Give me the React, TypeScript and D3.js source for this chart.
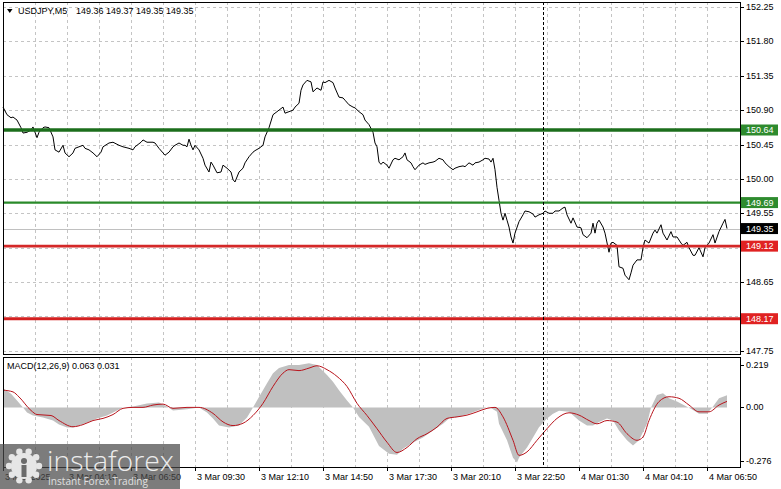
import { useEffect, useRef } from 'react'
import * as d3 from 'd3'

const W = 781
const H = 489

// price axis ticks (grid at every tick, labels where no level tag covers them)
const priceTicks = [152.25, 151.8, 151.35, 150.9, 150.45, 150.0, 149.55, 149.1, 148.65, 148.2, 147.75]
const priceLabels = [152.25, 151.8, 151.35, 150.9, 150.45, 150.0, 149.55, 148.65, 147.75]

// horizontal support / resistance levels
const levelValues = [150.64, 149.69, 149.12, 148.17]
const lastPrice = 149.35

// time axis, one label every 32 bars (M5)
const timeLabels = [
  '3 Mar 2025', '3 Mar 04:10', '3 Mar 06:50', '3 Mar 09:30', '3 Mar 12:10', '3 Mar 14:50',
  '3 Mar 17:30', '3 Mar 20:10', '3 Mar 22:50', '4 Mar 01:30', '4 Mar 04:10', '4 Mar 06:50',
]
const labelEvery = 32
const gridEvery = 16
const daySeparatorBar = 270 // 4 Mar 00:00

// close prices: [bar index, close]
const closes: [number, number][] = [
  [0, 150.94], [2, 150.84], [4, 150.8], [5, 150.81], [7, 150.77], [9, 150.67], [10, 150.6], [12, 150.61],
  [14, 150.64], [15, 150.68], [17, 150.54], [18, 150.61], [20, 150.67], [21, 150.68], [23, 150.67], [25, 150.55],
  [26, 150.38], [28, 150.35], [30, 150.44], [31, 150.34], [33, 150.29], [35, 150.34], [36, 150.4], [38, 150.42],
  [40, 150.44], [41, 150.4], [43, 150.38], [45, 150.34], [47, 150.29], [49, 150.35], [50, 150.42], [53, 150.47],
  [55, 150.48], [58, 150.44], [60, 150.42], [63, 150.4], [65, 150.38], [66, 150.42], [69, 150.48], [70, 150.51],
  [72, 150.48], [75, 150.48], [76, 150.47], [78, 150.4], [80, 150.34], [81, 150.31], [83, 150.35], [85, 150.42],
  [86, 150.44], [88, 150.47], [90, 150.44], [91, 150.44], [92, 150.42], [93, 150.52], [94, 150.44], [95, 150.38],
  [96, 150.44], [98, 150.38], [100, 150.27], [101, 150.18], [103, 150.09], [104, 150.22], [105, 150.18], [107, 150.08],
  [109, 150.09], [110, 150.18], [112, 150.14], [114, 150.09], [115, 149.99], [116, 149.96], [118, 150.09], [120, 150.14],
  [121, 150.21], [123, 150.29], [125, 150.35], [126, 150.37], [128, 150.4], [130, 150.44], [131, 150.55], [133, 150.67],
  [135, 150.84], [136, 150.86], [138, 150.9], [140, 150.94], [141, 150.86], [143, 150.88], [145, 150.9], [146, 150.94],
  [148, 150.99], [149, 151.16], [150, 151.23], [152, 151.29], [154, 151.27], [155, 151.14], [157, 151.19], [159, 151.16],
  [160, 151.27], [161, 151.26], [163, 151.29], [165, 151.26], [166, 151.19], [168, 151.07], [170, 151.06], [171, 151.03],
  [173, 150.97], [175, 150.94], [176, 150.93], [178, 150.88], [180, 150.84], [181, 150.77], [183, 150.71], [185, 150.61],
  [186, 150.47], [187, 150.42], [188, 150.22], [189, 150.19], [190, 150.22], [192, 150.18], [193, 150.14], [195, 150.25],
  [196, 150.27], [198, 150.25], [200, 150.29], [201, 150.34], [202, 150.25], [204, 150.21], [205, 150.16], [206, 150.12],
  [208, 150.18], [210, 150.21], [211, 150.19], [213, 150.21], [215, 150.22], [216, 150.23], [218, 150.27], [220, 150.25],
  [221, 150.21], [223, 150.16], [225, 150.12], [226, 150.14], [228, 150.16], [230, 150.17], [231, 150.16], [233, 150.21],
  [235, 150.18], [236, 150.21], [238, 150.22], [240, 150.25], [241, 150.27], [243, 150.26], [244, 150.22], [245, 150.27],
  [246, 150.12], [247, 149.89], [248, 149.72], [249, 149.55], [250, 149.46], [251, 149.55], [252, 149.46], [253, 149.37],
  [254, 149.24], [255, 149.16], [256, 149.29], [258, 149.44], [260, 149.53], [261, 149.58], [263, 149.57], [265, 149.54],
  [266, 149.5], [268, 149.53], [270, 149.55], [271, 149.58], [273, 149.55], [275, 149.55], [276, 149.58], [278, 149.58],
  [280, 149.62], [281, 149.63], [282, 149.53], [284, 149.42], [285, 149.49], [287, 149.37], [289, 149.36], [290, 149.27],
  [292, 149.23], [294, 149.29], [295, 149.42], [296, 149.29], [297, 149.42], [298, 149.46], [300, 149.37], [301, 149.29],
  [303, 149.04], [304, 149.16], [305, 149.17], [307, 149.13], [308, 148.85], [310, 148.83], [311, 148.74], [313, 148.68],
  [314, 148.77], [315, 148.87], [317, 148.94], [319, 148.94], [320, 149.1], [321, 149.2], [323, 149.16], [325, 149.29],
  [326, 149.33], [327, 149.29], [329, 149.4], [330, 149.29], [332, 149.2], [334, 149.31], [335, 149.24], [337, 149.24],
  [339, 149.16], [340, 149.13], [342, 149.17], [343, 149.1], [345, 149.0], [346, 149.0], [348, 149.1], [350, 148.98],
  [351, 149.1], [353, 149.16], [355, 149.27], [356, 149.16], [358, 149.31], [360, 149.42], [361, 149.47], [362, 149.35],
]

// MACD(12,26,9) main values drawn as histogram: [bar, value]
const macdMain: [number, number][] = [
  [0, 0.1], [2, 0.085], [4, 0.07], [7, 0.036], [10, 0.0], [12, -0.026], [15, -0.042], [20, -0.052],
  [25, -0.068], [28, -0.089], [32, -0.104], [35, -0.104], [38, -0.094], [42, -0.078], [47, -0.057], [52, -0.042],
  [57, -0.016], [60, 0.0], [65, 0.005], [72, 0.02], [78, 0.025], [82, 0.005], [85, -0.016], [92, -0.01],
  [98, 0.0], [102, -0.026], [105, -0.057], [108, -0.094], [113, -0.104], [118, -0.094], [122, -0.052], [125, 0.0],
  [128, 0.054], [132, 0.125], [135, 0.177], [138, 0.203], [143, 0.219], [148, 0.219], [153, 0.228], [157, 0.219],
  [162, 0.167], [165, 0.132], [168, 0.089], [172, 0.036], [175, 0.0], [178, -0.05], [183, -0.1], [188, -0.2],
  [193, -0.24], [197, -0.245], [200, -0.214], [205, -0.181], [210, -0.155], [215, -0.12], [220, -0.085], [223, -0.057],
  [228, -0.049], [233, -0.033], [238, -0.014], [243, 0.003], [247, -0.023], [248, -0.085], [252, -0.17], [255, -0.26],
  [257, -0.285], [258, -0.26], [262, -0.207], [265, -0.155], [268, -0.103], [272, -0.057], [275, -0.033], [278, -0.017],
  [283, -0.023], [288, -0.068], [292, -0.094], [295, -0.094], [298, -0.076], [302, -0.057], [305, -0.068], [308, -0.12],
  [312, -0.17], [315, -0.197], [318, -0.17], [322, -0.085], [324, 0.0], [327, 0.064], [330, 0.073], [333, 0.047],
  [337, 0.03], [342, 0.003], [345, -0.014], [348, -0.033], [352, -0.033], [355, 0.004], [358, 0.047], [362, 0.063],
]

// MACD signal line: [bar, value]
const macdSignal: [number, number][] = [
  [0, 0.089], [5, 0.08], [8, 0.054], [14, -0.016], [17, -0.037], [24, -0.042], [28, -0.068], [35, -0.1],
  [40, -0.089], [45, -0.068], [50, -0.057], [55, -0.037], [60, -0.005], [65, 0.0], [70, 0.0], [75, 0.012],
  [80, 0.017], [85, -0.005], [92, 0.0], [98, 0.0], [105, -0.031], [110, -0.075], [115, -0.094], [120, -0.082],
  [125, -0.042], [130, 0.021], [135, 0.108], [140, 0.177], [143, 0.195], [148, 0.19], [153, 0.203], [157, 0.215],
  [162, 0.195], [167, 0.16], [172, 0.108], [177, 0.021], [182, -0.042], [187, -0.11], [192, -0.18], [197, -0.233],
  [202, -0.207], [207, -0.162], [212, -0.136], [217, -0.102], [222, -0.057], [227, -0.049], [232, -0.04], [237, -0.023],
  [242, -0.005], [246, 0.0], [250, -0.049], [255, -0.17], [258, -0.248], [262, -0.23], [267, -0.17], [272, -0.11],
  [277, -0.057], [283, -0.028], [288, -0.04], [293, -0.068], [297, -0.085], [302, -0.068], [307, -0.076], [312, -0.136],
  [317, -0.17], [320, -0.153], [323, -0.068], [328, 0.03], [333, 0.055], [338, 0.047], [343, 0.012], [348, -0.023],
  [353, -0.023], [358, 0.012], [362, 0.031],
]
const macdTicks = [0.219, 0.0, -0.276]

const FONT = '"Liberation Sans", Arial, sans-serif'

export default function App() {
  const svgRef = useRef<SVGSVGElement>(null)

  useEffect(() => {
    if (!svgRef.current) return
    const svg = d3.select(svgRef.current)
    svg.selectAll('*').remove()

    const left = 3
    const right = 740
    const mainTop = 2
    const mainBottom = 354
    const subTop = 357
    const subBottom = 467

    const x = d3.scaleLinear().domain([0, 368.5]).range([left, right])
    const y = d3.scaleLinear().domain([147.75, 152.25]).range([350.8, 7])
    const ym = d3.scaleLinear().domain([-0.276, 0.219]).range([460.8, 365])

    svg.append('rect').attr('width', W).attr('height', H).attr('fill', '#fff')

    // grid
    const grid = svg.append('g').attr('stroke', '#c4c4c4').attr('stroke-dasharray', '3,3').attr('stroke-width', 1)
    priceTicks.forEach((v) => {
      const yy = Math.round(y(v)) + 0.5
      grid.append('line').attr('x1', left).attr('x2', right).attr('y1', yy).attr('y2', yy)
    })
    const gridBars = d3.range(gridEvery, 368, gridEvery)
    gridBars.forEach((b) => {
      const xx = Math.round(x(b)) + 0.5
      grid.append('line').attr('x1', xx).attr('x2', xx).attr('y1', mainTop).attr('y2', mainBottom)
      grid.append('line').attr('x1', xx).attr('x2', xx).attr('y1', subTop).attr('y2', subBottom)
    })

    // current price line
    const yl = Math.round(y(lastPrice)) + 0.5
    svg.append('line').attr('x1', left).attr('x2', right).attr('y1', yl).attr('y2', yl)
      .attr('stroke', '#c0c0c0').attr('stroke-width', 1)

    // price line
    const line = d3.line<[number, number]>().x((d) => x(d[0])).y((d) => y(d[1]))
    svg.append('path').datum(closes).attr('d', line).attr('fill', 'none')
      .attr('stroke', '#000').attr('stroke-width', 1)

    // levels
    const levelStroke = ['#1c6e1c', '#2a8a2a', '#d42828', '#d42020']
    const levelWidth = [3.5, 2.2, 2.6, 3]
    const levelTag = ['#2e8b2e', '#2e8b2e', '#e02222', '#e02222']
    levelValues.forEach((v, i) => {
      svg.append('line').attr('x1', left).attr('x2', right).attr('y1', y(v)).attr('y2', y(v))
        .attr('stroke', levelStroke[i]).attr('stroke-width', levelWidth[i])
    })

    // MACD histogram + signal
    const area = d3.area<[number, number]>().x((d) => x(d[0])).y0(ym(0)).y1((d) => ym(d[1]))
    svg.append('path').datum(macdMain).attr('d', area).attr('fill', '#c0c0c0')
    const sig = d3.line<[number, number]>().x((d) => x(d[0])).y((d) => ym(d[1])).curve(d3.curveMonotoneX)
    svg.append('path').datum(macdSignal).attr('d', sig).attr('fill', 'none')
      .attr('stroke', '#b8141c').attr('stroke-width', 1)

    // day separator
    const xs = Math.round(x(daySeparatorBar)) + 0.5
    svg.append('line').attr('x1', xs).attr('x2', xs).attr('y1', mainTop).attr('y2', subBottom)
      .attr('stroke', '#000').attr('stroke-dasharray', '3,2').attr('stroke-width', 1)

    // frames
    const frame = svg.append('g').attr('fill', 'none').attr('stroke', '#000').attr('stroke-width', 1)
    frame.append('rect').attr('x', left + 0.5).attr('y', mainTop + 0.5)
      .attr('width', right - left).attr('height', mainBottom - mainTop)
    frame.append('rect').attr('x', left + 0.5).attr('y', subTop + 0.5)
      .attr('width', right - left).attr('height', subBottom - subTop)

    // right price axis
    const axisG = svg.append('g').attr('font-family', FONT).attr('font-size', 9).attr('fill', '#000')
    priceTicks.forEach((v) => {
      const yy = Math.round(y(v)) + 0.5
      axisG.append('line').attr('x1', right).attr('x2', right + 4).attr('y1', yy).attr('y2', yy)
        .attr('stroke', '#000')
    })
    priceLabels.forEach((v) => {
      axisG.append('text').attr('x', 746).attr('y', y(v)).attr('dominant-baseline', 'central')
        .text(d3.format('.2f')(v))
    })
    macdTicks.forEach((v) => {
      const yy = Math.round(ym(v)) + 0.5
      axisG.append('line').attr('x1', right).attr('x2', right + 4).attr('y1', yy).attr('y2', yy)
        .attr('stroke', '#000')
      axisG.append('text').attr('x', 746).attr('y', ym(v)).attr('dominant-baseline', 'central')
        .text(v === 0 ? '0.00' : d3.format('.3f')(v).replace('−', '-'))
    })

    // level tags
    const tags = [...levelValues.map((v, i) => ({ v, c: levelTag[i] })), { v: lastPrice, c: '#000' }]
    tags.forEach(({ v, c }) => {
      axisG.append('rect').attr('x', 741).attr('y', y(v) - 5.5).attr('width', 37).attr('height', 11).attr('fill', c)
      axisG.append('text').attr('x', 746).attr('y', y(v)).attr('dominant-baseline', 'central')
        .attr('fill', '#fff').text(d3.format('.2f')(v))
    })

    // time axis
    timeLabels.forEach((t, i) => {
      const xx = Math.round(x(i * labelEvery)) + 0.5
      axisG.append('line').attr('x1', xx).attr('x2', xx).attr('y1', subBottom).attr('y2', subBottom + 4)
        .attr('stroke', '#000')
      axisG.append('text').attr('x', xx + 1.5).attr('y', 477).attr('dominant-baseline', 'central').text(t)
    })

    // titles
    axisG.append('path').attr('d', 'M7,9 L12.5,9 L9.75,13 Z').attr('fill', '#000')
    axisG.append('text').attr('x', 18).attr('y', 11).attr('dominant-baseline', 'central').text('USDJPY,M5')
    axisG.append('text').attr('x', 76).attr('y', 11).attr('dominant-baseline', 'central')
      .text('149.36 149.37 149.35 149.35')
    axisG.append('text').attr('x', 7).attr('y', 366).attr('dominant-baseline', 'central')
      .text('MACD(12,26,9) 0.063 0.031')

    // watermark
    const wm = svg.append('g')
    wm.append('rect').attr('x', 0).attr('y', 444).attr('width', 180).attr('height', 45)
      .attr('fill', '#4a4a4a').attr('opacity', 0.72)
    const cx = 24
    const cy = 466
    d3.range(10).forEach((k) => {
      const a = (k / 10) * Math.PI * 2
      wm.append('circle').attr('cx', cx + Math.cos(a) * 15).attr('cy', cy + Math.sin(a) * 15)
        .attr('r', 3.2).attr('fill', '#e6e6e6')
    })
    wm.append('circle').attr('cx', cx).attr('cy', cy).attr('r', 13).attr('fill', '#e6e6e6')
    wm.append('circle').attr('cx', cx).attr('cy', cy - 5).attr('r', 3).attr('fill', '#6a6a6a')
    wm.append('rect').attr('x', cx - 2.5).attr('y', cy - 1).attr('width', 5).attr('height', 12).attr('fill', '#6a6a6a')
    wm.append('text').attr('x', 47).attr('y', 471).attr('font-family', '"Open Sans", sans-serif')
      .attr('font-size', 28).attr('font-weight', 300).attr('fill', '#ececec')
      .attr('textLength', 127).attr('lengthAdjust', 'spacingAndGlyphs').text('instaforex')
    wm.append('text').attr('x', 48).attr('y', 485).attr('font-family', '"Open Sans", sans-serif')
      .attr('font-size', 11).attr('fill', '#e0e0e0')
      .attr('textLength', 100).attr('lengthAdjust', 'spacingAndGlyphs').text('Instant Forex Trading')
  }, [])

  return (
    <svg
      ref={svgRef}
      width={W}
      height={H}
      style={{ position: 'absolute', left: 0, top: 0, display: 'block' }}
    />
  )
}
